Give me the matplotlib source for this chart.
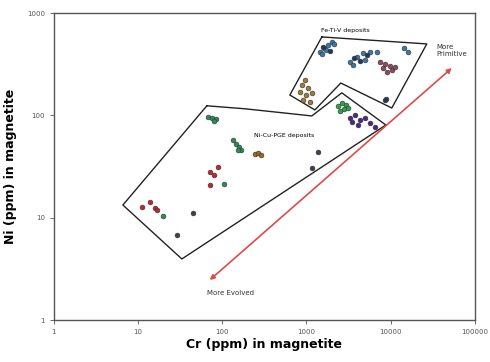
import matplotlib
matplotlib.use("Agg")
import matplotlib.pyplot as plt

# ---- data (Cr ppm, Ni ppm) ----
red_cr = [11.1, 13.8, 15.8, 16.7, 71, 89, 71, 80]
red_ni = [12.7, 14.2, 12.4, 11.9, 28, 31.3, 21, 26]

green_cr = [19.7, 105, 67.4, 75.2, 83.9, 79.4, 134, 144, 157, 166, 153]
green_ni = [10.4, 21.4, 96.5, 94.3, 92.2, 88.4, 57.5, 52.4, 49.1, 45.9, 45.9]

gray_cr = [44.8, 28.9, 1365, 1159]
gray_ni = [11.1, 6.8, 43.9, 30.6]

brown_cr = [244, 265, 287]
brown_ni = [42, 42.9, 41]

blue_cr = [1443, 1610, 1795, 2003, 1700, 2115, 1524,
           3275, 3970, 4675, 5660, 6860, 4940, 3557, 16000, 14300]
blue_ni = [417, 456, 488, 522, 436, 499, 398,
           333, 372, 407, 417, 417, 348, 311, 417, 456]

navy_cr = [1560, 1900, 3700, 4300, 5200, 8530, 8900]
navy_ni = [470, 430, 360, 340, 390, 141, 146]

mauve_cr = [7450, 8530, 9780, 8080, 10330, 9010, 11210]
mauve_ni = [333, 318, 304, 290, 278, 266, 297]

gold_cr = [957, 881, 1040, 835, 984, 1159, 906, 1097]
gold_ni = [222, 198, 185, 169, 158, 166, 141, 135]

lime_cr = [2360, 2632, 2937, 2780, 2494, 3102]
lime_ni = [124, 132, 126, 116, 110, 118]

purple_cr = [3275, 3758, 4305, 4940, 5660, 4077, 6490, 3461]
purple_ni = [94.4, 101, 90.2, 94.4, 84.3, 80.5, 77.1, 86.2]

# field outlines
fetiv_cr = [1524, 26900, 10330, 2560, 1259, 635, 1524]
fetiv_ni = [584, 499, 118, 207, 113, 158, 584]

nicu_cr = [65.6, 185, 1159, 2632, 8770, 33.1, 6.6, 65.6]
nicu_ni = [124, 116, 98.7, 166, 80.5, 3.95, 13.3, 124]

# evolution arrow end points
arrow_cr = [71, 53300]
arrow_ni = [2.46, 290]

xticks = [1, 10, 100, 1000, 10000, 100000]
xtick_labels = ["1", "10", "100", "1000", "10000", "100000"]
yticks = [1, 10, 100, 1000]
ytick_labels = ["1", "10", "100", "1000"]

fig = plt.figure(figsize=(4.9, 3.62), dpi=100)
ax = fig.add_axes([0.110, 0.116, 0.859, 0.848])
ax.set_xscale("log")
ax.set_yscale("log")
ax.set_xlim(1, 100000)
ax.set_ylim(1, 1000)

ax.plot(fetiv_cr, fetiv_ni, color="#222222", lw=1.0, zorder=2)
ax.plot(nicu_cr, nicu_ni, color="#222222", lw=1.0, zorder=2)

ax.annotate("", xy=(arrow_cr[1], arrow_ni[1]), xytext=(arrow_cr[0], arrow_ni[0]),
            arrowprops=dict(arrowstyle="<|-|>", color="#e04a4a", lw=1.2,
                            mutation_scale=7, shrinkA=0, shrinkB=0), zorder=3)

def sc(xs, ys, c):
    ax.scatter(xs, ys, s=12, c=c, edgecolors="#333333", linewidths=0.4,
               marker="o", zorder=4)

sc(red_cr, red_ni, "#c0282d")
sc(green_cr, green_ni, "#2e8b57")
sc(gray_cr, gray_ni, "#404050")
sc(brown_cr, brown_ni, "#9c6b1e")
sc(blue_cr, blue_ni, "#3b78a8")
sc(navy_cr, navy_ni, "#1f3b5c")
sc(mauve_cr, mauve_ni, "#8c4a5e")
sc(gold_cr, gold_ni, "#a07a35")
sc(lime_cr, lime_ni, "#2ca24a")
sc(purple_cr, purple_ni, "#4a2a7e")

ax.text(2900, 680, "Fe-Ti-V deposits", fontsize=4.5, ha="center", va="center")
ax.text(540, 63, "Ni-Cu-PGE deposits", fontsize=4.5, ha="center", va="center")
ax.text(35000, 430, "More\nPrimitive", fontsize=5, ha="left", va="center",
        color="#333333", linespacing=1.2)
ax.text(125, 1.85, "More Evolved", fontsize=5, ha="center", va="center",
        color="#333333")

ax.set_xticks(xticks)
ax.set_xticklabels(xtick_labels)
ax.set_yticks(yticks)
ax.set_yticklabels(ytick_labels)
ax.minorticks_off()
ax.tick_params(labelsize=5, colors="#555555", length=3, width=0.6)
for sp in ax.spines.values():
    sp.set_color("#555555")
    sp.set_linewidth(1.0)

ax.set_xlabel("Cr (ppm) in magnetite", fontsize=9, fontweight="bold", labelpad=2)
ax.set_ylabel("Ni (ppm) in magnetite", fontsize=9, fontweight="bold", labelpad=7)

fig.savefig("out.png", dpi=100)
